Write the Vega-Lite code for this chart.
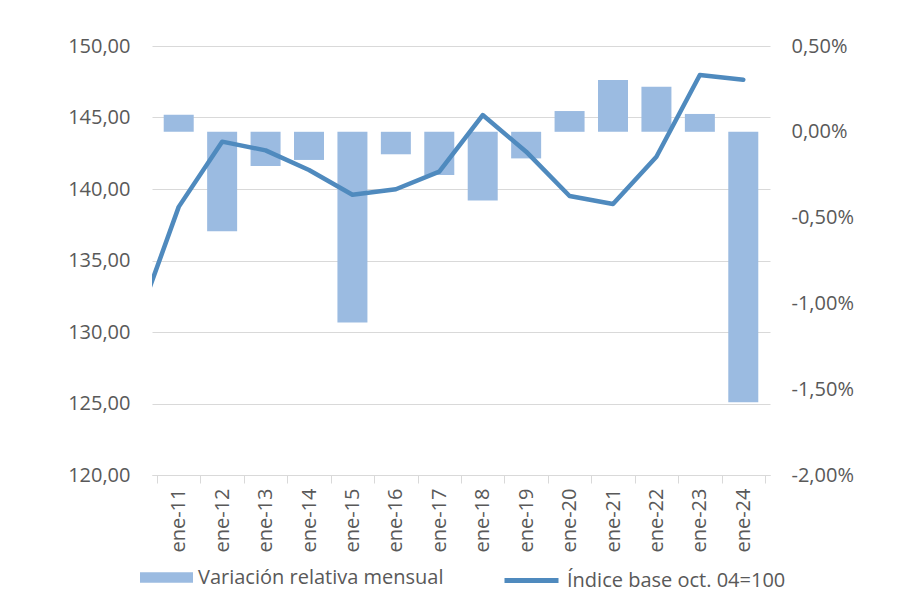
{
  "$schema": "https://vega.github.io/schema/vega-lite/v6.json",
  "width": 618,
  "height": 429,
  "autosize": {"type": "none"},
  "padding": {"left": 152, "top": 46, "right": 134, "bottom": 138},
  "background": "white",
  "config": {
    "view": {"stroke": null},
    "font": "Open Sans",
    "axis": {"labelFont": "Open Sans", "labelFontSize": 20, "labelColor": "#595959"},
    "legend": {"labelFont": "Open Sans", "labelFontSize": 20, "labelColor": "#595959", "labelLimit": 0}
  },
  "data": {
    "values": [
      {"year": 2010, "indice": 130.3, "variacion": null},
      {"year": 2011, "indice": 138.75, "variacion": 0.10},
      {"year": 2012, "indice": 143.31, "variacion": -0.58},
      {"year": 2013, "indice": 142.7, "variacion": -0.20},
      {"year": 2014, "indice": 141.33, "variacion": -0.164},
      {"year": 2015, "indice": 139.6, "variacion": -1.112},
      {"year": 2016, "indice": 139.98, "variacion": -0.131},
      {"year": 2017, "indice": 141.21, "variacion": -0.252},
      {"year": 2018, "indice": 145.17, "variacion": -0.40},
      {"year": 2019, "indice": 142.61, "variacion": -0.155},
      {"year": 2020, "indice": 139.51, "variacion": 0.121},
      {"year": 2021, "indice": 138.95, "variacion": 0.302},
      {"year": 2022, "indice": 142.26, "variacion": 0.263},
      {"year": 2023, "indice": 147.97, "variacion": 0.104},
      {"year": 2024, "indice": 147.64, "variacion": -1.576}
    ]
  },
  "layer": [
    {
      "mark": {"type": "bar", "size": 30},
      "encoding": {
        "x": {
          "field": "year", "type": "quantitative",
          "scale": {"domain": [2010.5, 2024.5], "nice": false, "zero": false},
          "axis": {
            "orient": "bottom", "title": null,
            "values": [2011, 2012, 2013, 2014, 2015, 2016, 2017, 2018, 2019, 2020, 2021, 2022, 2023, 2024],
            "labelExpr": "'ene-' + slice(toString(datum.value), 2)",
            "labelAngle": -90, "ticks": false, "tickSize": 0, "grid": false,
            "domain": true, "domainColor": "#d9d9d9", "domainWidth": 1, "labelPadding": 13
          }
        },
        "y": {
          "field": "variacion", "type": "quantitative",
          "scale": {"domain": [-2, 0.5], "nice": false, "zero": false},
          "axis": {
            "orient": "right", "title": null, "grid": false, "ticks": false, "domain": false,
            "values": [-2, -1.5, -1, -0.5, 0, 0.5],
            "labelExpr": "(datum.value < 0 ? '-' : '') + replace(format(abs(datum.value), '.2f'), '.', ',') + '%'",
            "labelPadding": 21
          }
        },
        "fill": {
          "datum": "Variación relativa mensual", "type": "nominal",
          "scale": {"range": ["#9BBBE1"]},
          "legend": {
            "title": null, "orient": "none", "legendX": -12, "legendY": 505,
            "symbolType": "M-1,-0.2H1V0.2H-1Z", "symbolSize": 2809,
            "symbolStrokeWidth": 0, "labelOffset": 5
          }
        }
      }
    },
    {
      "mark": {"type": "line", "strokeWidth": 4.5, "strokeCap": "round", "strokeJoin": "round", "clip": true},
      "encoding": {
        "x": {
          "field": "year", "type": "quantitative",
          "axis": {
            "orient": "bottom", "title": null,
            "values": [2010.5, 2011.5, 2012.5, 2013.5, 2014.5, 2015.5, 2016.5, 2017.5, 2018.5, 2019.5, 2020.5, 2021.5, 2022.5, 2023.5, 2024.5],
            "labels": false, "ticks": true, "tickSize": 8, "tickColor": "#d9d9d9",
            "domain": false, "grid": false
          }
        },
        "y": {
          "field": "indice", "type": "quantitative",
          "scale": {"domain": [120, 150], "nice": false, "zero": false},
          "axis": {
            "orient": "left", "title": null, "grid": true, "gridColor": "#d9d9d9",
            "ticks": false, "domain": false,
            "values": [120, 125, 130, 135, 140, 145, 150],
            "labelExpr": "replace(format(datum.value, '.2f'), '.', ',')",
            "labelPadding": 22
          }
        },
        "stroke": {
          "datum": "Índice base oct. 04=100", "type": "nominal",
          "scale": {"range": ["#4F8ABE"]},
          "legend": {
            "title": null, "orient": "none", "legendX": 350, "legendY": 505,
            "symbolType": "stroke", "symbolSize": 2916, "symbolStrokeWidth": 5,
            "labelOffset": 6
          }
        }
      }
    }
  ],
  "resolve": {"scale": {"y": "independent"}, "axis": {"x": "independent"}}
}
